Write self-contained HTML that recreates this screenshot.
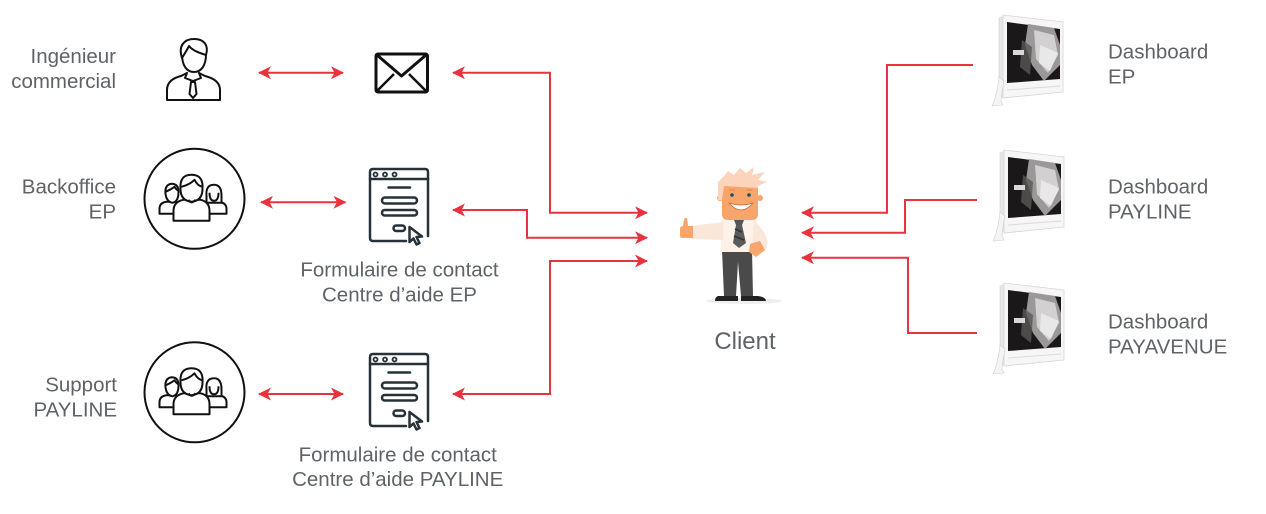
<!DOCTYPE html>
<html><head><meta charset="utf-8"><style>
html,body{margin:0;padding:0;background:#fff;}
svg{display:block;}
text{font-family:"Liberation Sans",Arial,sans-serif;fill:#5f6368;}
</style></head><body>
<svg width="1266" height="514" viewBox="0 0 1266 514" xmlns="http://www.w3.org/2000/svg">
<defs>
<marker id="ah" viewBox="0 0 13 13" refX="12" refY="6.5" markerWidth="13" markerHeight="13" markerUnits="userSpaceOnUse" orient="auto-start-reverse">
<path d="M0,0 L13,6.5 L0,13 L3.5,6.5 Z" fill="#e8333d"/>
</marker>
</defs>

<!-- connectors -->
<g fill="none" stroke="#e8333d" stroke-width="2">
<line x1="259" y1="72.7" x2="343" y2="72.7" marker-start="url(#ah)" marker-end="url(#ah)"/>
<line x1="261" y1="202.3" x2="345.5" y2="202.3" marker-start="url(#ah)" marker-end="url(#ah)"/>
<line x1="259" y1="394" x2="343" y2="394" marker-start="url(#ah)" marker-end="url(#ah)"/>
<polyline points="453,72.7 550,72.7 550,212.7 647,212.7" marker-start="url(#ah)" marker-end="url(#ah)"/>
<polyline points="453,210 527,210 527,237.7 647,237.7" marker-start="url(#ah)" marker-end="url(#ah)"/>
<polyline points="453,394 550,394 550,261 647,261" marker-start="url(#ah)" marker-end="url(#ah)"/>
<polyline points="973,65 887,65 887,212.7 802,212.7" marker-end="url(#ah)"/>
<polyline points="977,200 905,200 905,232.7 802,232.7" marker-end="url(#ah)"/>
<polyline points="977,333 908,333 908,257.7 802,257.7" marker-end="url(#ah)"/>
</g>

<!-- person icon -->
<g fill="#fff" stroke="#111" stroke-width="2" stroke-linejoin="round" stroke-linecap="round">
<path d="M167,100 V90 C167,82 173,78 181,76 L187,73 L193,81 L199,73 L205,76 C213,78 220,82 220,90 V100 Z"/>
<path d="M187,73 L185,78 L193,81 L201,78 L199,73"/>
<path d="M191,82 L195,82 L196.5,94 L193,98 L189.5,94 Z"/>
<path d="M182,54 C182,66 187,72 194,72 C201,72 206,66 206,54"/>
<path d="M182,58 C178,46 184,39 194,39 C204,39 209,45 206,55 C200,53 193,51 189,46 C187,50 185,53 182,58 Z"/>
</g>

<!-- envelope -->
<g fill="none" stroke="#111" stroke-width="3" stroke-linejoin="round">
<rect x="376" y="54" width="51.5" height="38" rx="2"/>
<path d="M377,55 L401.5,76 L426,55"/>
<path d="M377,91 L394,74 M426,91 L409,74" stroke-width="2.5"/>
</g>

<!-- group icons -->
<g transform="translate(194.5,198.8)" fill="#fff" stroke="#111" stroke-width="2" stroke-linejoin="round">
<circle r="50" fill="none"/>
<path d="M-35,15 V10 Q-35,4 -28,3 L-18,3 L-18,15 Z"/>
<path d="M-29,-5 Q-30,-14 -23,-15 Q-16,-15 -16,-7 Q-16,3 -22,4 Q-28,3 -29,-5 Z"/>
<path d="M-29,-7 Q-24,-9 -20,-12 Q-18,-9 -16,-8" fill="none"/>
<path d="M12,15 V3 L24,3 Q32,4 32,10 V15 Z"/>
<path d="M12,-3 Q11,-14 19.5,-14 Q27,-14 27,-3 L27,4 L12,4 Z"/>
<path d="M15,-6 Q15,2 19.5,2 Q24,2 24,-6" fill="none"/>
<path d="M-21,22 V12 Q-21,3 -11,1 L6,1 Q15,3 15,12 V22 Z"/>
<path d="M-14,-10 Q-15,-24 -3,-24 Q9,-24 8,-10 Q8,2 -3,3 Q-14,2 -14,-10 Z"/>
<path d="M-13,-12 Q-5,-14 0,-19 Q3,-13 8,-12" fill="none"/>
<path d="M-6,1 Q-3,6 1,1" fill="none"/>
</g>
<g transform="translate(194.5,392.3)" fill="#fff" stroke="#111" stroke-width="2" stroke-linejoin="round">
<circle r="50" fill="none"/>
<path d="M-35,15 V10 Q-35,4 -28,3 L-18,3 L-18,15 Z"/>
<path d="M-29,-5 Q-30,-14 -23,-15 Q-16,-15 -16,-7 Q-16,3 -22,4 Q-28,3 -29,-5 Z"/>
<path d="M-29,-7 Q-24,-9 -20,-12 Q-18,-9 -16,-8" fill="none"/>
<path d="M12,15 V3 L24,3 Q32,4 32,10 V15 Z"/>
<path d="M12,-3 Q11,-14 19.5,-14 Q27,-14 27,-3 L27,4 L12,4 Z"/>
<path d="M15,-6 Q15,2 19.5,2 Q24,2 24,-6" fill="none"/>
<path d="M-21,22 V12 Q-21,3 -11,1 L6,1 Q15,3 15,12 V22 Z"/>
<path d="M-14,-10 Q-15,-24 -3,-24 Q9,-24 8,-10 Q8,2 -3,3 Q-14,2 -14,-10 Z"/>
<path d="M-13,-12 Q-5,-14 0,-19 Q3,-13 8,-12" fill="none"/>
<path d="M-6,1 Q-3,6 1,1" fill="none"/>
</g>

<!-- form icons -->
<g fill="none" stroke="#263238" stroke-width="2.5" stroke-linejoin="round" stroke-linecap="round">
<path d="M406,241 H373 Q370,241 370,238 V172 Q370,169 373,169 H425 Q428,169 428,172 V236"/>
<line x1="370" y1="179" x2="428" y2="179"/>
<circle cx="375.5" cy="174.5" r="2" stroke-width="1.8"/>
<circle cx="385" cy="174.5" r="2" stroke-width="1.8"/>
<circle cx="394.5" cy="174.5" r="2" stroke-width="1.8"/>
<line x1="388.5" y1="187.5" x2="410" y2="187.5"/>
<rect x="382" y="197.5" width="35" height="6" rx="3"/>
<rect x="382" y="210" width="35" height="5.5" rx="2.8"/>
<rect x="393.5" y="225.5" width="11.5" height="5.5" rx="2.8"/>
<path d="M409.5,227 L409.5,242 L413.5,238.5 L416.5,244.5 L419.5,243 L416.5,237 L422,236.5 Z"/>
</g>
<g transform="translate(0,185)" fill="none" stroke="#263238" stroke-width="2.5" stroke-linejoin="round" stroke-linecap="round">
<path d="M406,241 H373 Q370,241 370,238 V172 Q370,169 373,169 H425 Q428,169 428,172 V236"/>
<line x1="370" y1="179" x2="428" y2="179"/>
<circle cx="375.5" cy="174.5" r="2" stroke-width="1.8"/>
<circle cx="385" cy="174.5" r="2" stroke-width="1.8"/>
<circle cx="394.5" cy="174.5" r="2" stroke-width="1.8"/>
<line x1="388.5" y1="187.5" x2="410" y2="187.5"/>
<rect x="382" y="197.5" width="35" height="6" rx="3"/>
<rect x="382" y="210" width="35" height="5.5" rx="2.8"/>
<rect x="393.5" y="225.5" width="11.5" height="5.5" rx="2.8"/>
<path d="M409.5,227 L409.5,242 L413.5,238.5 L416.5,244.5 L419.5,243 L416.5,237 L422,236.5 Z"/>
</g>

<!-- client figure -->
<g>
<ellipse cx="744" cy="301" rx="38" ry="3" fill="#eeeeee"/>
<path d="M722,250 L752,250 L753,296 L741,296 L738,262 L736,296 L724,296 Z" fill="#4a4a4a"/>
<path d="M718,296 H738 V301 H715 Q715,297 718,296 Z" fill="#222"/>
<path d="M741,296 H758 Q766,297 766,301 H741 Z" fill="#222"/>
<path d="M721,220 L756,220 Q762,232 760,252 L721,252 Z" fill="#fdf1e8"/>
<path d="M723,222 L691,226 L691,239 L723,240 Z" fill="#fbe6da"/>
<path d="M680,229 Q680,226 683,226 L684,220 Q685,217 687,218 L688,226 L693,226 L693,238 L682,238 Q680,238 680,235 Z" fill="#f7a56a"/>
<path d="M754,222 Q769,232 767,248 L759,253 L752,245 Z" fill="#fbe6da"/>
<path d="M750,244 L760,241 L765,250 L756,257 L749,252 Z" fill="#f7a56a"/>
<path d="M734,220 H744 L742,225 H736 Z" fill="#555"/>
<path d="M736,225 H742 L746,243 L739,248 L733,243 Z" fill="#5a5a5a"/>
<path d="M735,229 L742,232 M734,236 L744,240" stroke="#333" stroke-width="1.5"/>
<circle cx="720" cy="198" r="3" fill="#f7a56a"/>
<circle cx="760" cy="198" r="3" fill="#f7a56a"/>
<path d="M722,184 H758 V214 Q758,220 752,220 H728 Q722,220 722,214 Z" fill="#f7a56a"/>
<path d="M718,200 L718,182 L724,176 L728,171 L734,175 L740,168 L746,173 L754,167 L752,175 L765,172 L758,180 L767,182 L758,186 L758,188 L724,186 L722,200 Z" fill="#fcd4bb"/>
<circle cx="732" cy="195" r="1.8" fill="#1c4a6e"/>
<circle cx="749" cy="195" r="1.8" fill="#1c4a6e"/>
<path d="M729,190 L735,190 M746,190 L752,190" stroke="#e88e55" stroke-width="1.2"/>
<path d="M729,203 Q741,217 753,203 Q741,207 729,203 Z" fill="#fff" stroke="#c86a35" stroke-width="0.8"/>
</g>

<!-- monitors -->
<g transform="translate(992,15)">
<path d="M7,3 L12,1 L12,83 L7,80 Z" fill="#e6e6e6" stroke="#d4d4d4" stroke-width="0.6"/>
<path d="M11,0 L71,7 L71,77 L11,83 Z" fill="#f6f6f6" stroke="#d6d6d6" stroke-width="0.8"/>
<path d="M15,7 L68,14 L68,64 L15,68 Z" fill="#1a1818"/>
<path d="M36,9 L62,13 L68,30 L68,50 L52,66 L40,50 L33,30 Z" fill="#9a9898"/>
<path d="M42,15 L62,20 L66,40 L56,58 L44,44 Z" fill="#d2d0d0"/>
<path d="M48,30 L66,38 L58,56 L47,48 Z" fill="#eeeeee" opacity="0.8"/>
<path d="M30,25 L40,32 L38,60 L28,52 Z" fill="#5a5858" opacity="0.8"/>
<rect x="21" y="35" width="11" height="5" fill="#d8d8d8"/>
<line x1="15" y1="75" x2="68" y2="71" stroke="#dadada" stroke-width="1"/>
<path d="M7,62 Q5,80 0,91 L11,90 L9,86 Q10,75 12,66 Z" fill="#f4f4f4" stroke="#d0d0d0" stroke-width="0.6"/>
</g>
<g transform="translate(993,150)">
<path d="M7,3 L12,1 L12,83 L7,80 Z" fill="#e6e6e6" stroke="#d4d4d4" stroke-width="0.6"/>
<path d="M11,0 L71,7 L71,77 L11,83 Z" fill="#f6f6f6" stroke="#d6d6d6" stroke-width="0.8"/>
<path d="M15,7 L68,14 L68,64 L15,68 Z" fill="#1a1818"/>
<path d="M36,9 L62,13 L68,30 L68,50 L52,66 L40,50 L33,30 Z" fill="#9a9898"/>
<path d="M42,15 L62,20 L66,40 L56,58 L44,44 Z" fill="#d2d0d0"/>
<path d="M48,30 L66,38 L58,56 L47,48 Z" fill="#eeeeee" opacity="0.8"/>
<path d="M30,25 L40,32 L38,60 L28,52 Z" fill="#5a5858" opacity="0.8"/>
<rect x="21" y="35" width="11" height="5" fill="#d8d8d8"/>
<line x1="15" y1="75" x2="68" y2="71" stroke="#dadada" stroke-width="1"/>
<path d="M7,62 Q5,80 0,91 L11,90 L9,86 Q10,75 12,66 Z" fill="#f4f4f4" stroke="#d0d0d0" stroke-width="0.6"/>
</g>
<g transform="translate(993,283)">
<path d="M7,3 L12,1 L12,83 L7,80 Z" fill="#e6e6e6" stroke="#d4d4d4" stroke-width="0.6"/>
<path d="M11,0 L71,7 L71,77 L11,83 Z" fill="#f6f6f6" stroke="#d6d6d6" stroke-width="0.8"/>
<path d="M15,7 L68,14 L68,64 L15,68 Z" fill="#1a1818"/>
<path d="M36,9 L62,13 L68,30 L68,50 L52,66 L40,50 L33,30 Z" fill="#9a9898"/>
<path d="M42,15 L62,20 L66,40 L56,58 L44,44 Z" fill="#d2d0d0"/>
<path d="M48,30 L66,38 L58,56 L47,48 Z" fill="#eeeeee" opacity="0.8"/>
<path d="M30,25 L40,32 L38,60 L28,52 Z" fill="#5a5858" opacity="0.8"/>
<rect x="21" y="35" width="11" height="5" fill="#d8d8d8"/>
<line x1="15" y1="75" x2="68" y2="71" stroke="#dadada" stroke-width="1"/>
<path d="M7,62 Q5,80 0,91 L11,90 L9,86 Q10,75 12,66 Z" fill="#f4f4f4" stroke="#d0d0d0" stroke-width="0.6"/>
</g>

<!-- labels -->
<g font-size="20.5">
<text x="116" y="63" text-anchor="end">Ingénieur</text>
<text x="116" y="88" text-anchor="end">commercial</text>
<text x="116" y="193.5" text-anchor="end">Backoffice</text>
<text x="116" y="218.5" text-anchor="end">EP</text>
<text x="117" y="391.5" text-anchor="end">Support</text>
<text x="117" y="416.5" text-anchor="end">PAYLINE</text>
<text x="399.5" y="276.7" text-anchor="middle">Formulaire de contact</text>
<text x="399.5" y="301.7" text-anchor="middle">Centre d’aide EP</text>
<text x="397.7" y="461.7" text-anchor="middle">Formulaire de contact</text>
<text x="397.7" y="486" text-anchor="middle">Centre d’aide PAYLINE</text>
<text x="1108" y="58.3">Dashboard</text>
<text x="1108" y="83.3">EP</text>
<text x="1108" y="193.3">Dashboard</text>
<text x="1108" y="218.3">PAYLINE</text>
<text x="1108" y="328.3">Dashboard</text>
<text x="1108" y="353.3">PAYAVENUE</text>
</g>
<text x="745" y="349" text-anchor="middle" font-size="24">Client</text>
</svg>
</body></html>
